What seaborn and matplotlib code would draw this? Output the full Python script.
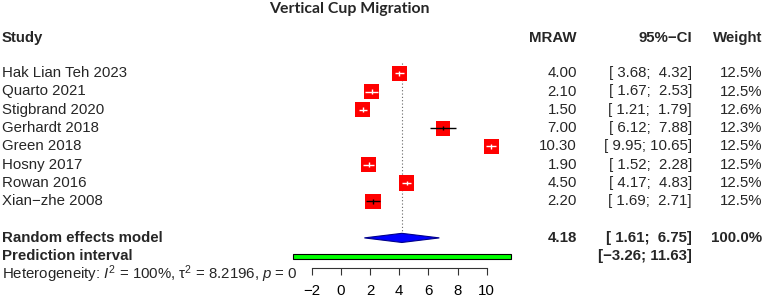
import numpy as np
import pandas as pd
import matplotlib
matplotlib.use('Agg')
import matplotlib.pyplot as plt
import matplotlib.transforms as mtransforms
from matplotlib.patches import Polygon, Rectangle
import seaborn as sns

# study level data
studies = ['Hak Lian Teh 2023', 'Quarto 2021', 'Stigbrand 2020', 'Gerhardt 2018',
           'Green 2018', 'Hosny 2017', 'Rowan 2016', 'Xian\u2212zhe 2008']
mraw = [4.00, 2.10, 1.50, 7.00, 10.30, 1.90, 4.50, 2.20]
ci_lo = [3.68, 1.67, 1.21, 6.12, 9.95, 1.52, 4.17, 1.69]
ci_hi = [4.32, 2.53, 1.79, 7.88, 10.65, 2.28, 4.83, 2.71]
weight = [12.5, 12.5, 12.6, 12.3, 12.5, 12.5, 12.5, 12.5]

# pooled results
re_est, re_lo, re_hi = 4.18, 1.61, 6.75
re_weight = 100.0
pi_lo, pi_hi = -3.26, 11.63
i2, tau2, pval = '100%', '8.2196', '0'
xticks = [-2, 0, 2, 4, 6, 8, 10]

sns.set_theme(style='white')
plt.rcParams['font.family'] = ['Liberation Sans', 'DejaVu Sans']
plt.rcParams['mathtext.fontset'] = 'custom'
plt.rcParams['mathtext.rm'] = 'Liberation Sans'
plt.rcParams['mathtext.it'] = 'Liberation Sans:italic'
plt.rcParams['mathtext.bf'] = 'Liberation Sans:bold'

FS = 10.8
W, H = 764, 301
fig = plt.figure(figsize=(W / 100, H / 100), dpi=100)
ax = fig.add_axes([0, 0, 1, 1])

# pixel layout of the forest panel
px_unit = 175 / 12
x0 = 340.9
ax.set_xlim(-x0 / px_unit, (W - x0) / px_unit)
row_px, y0 = 18.3, 73.2
ax.set_ylim((H - y0) / row_px, -y0 / row_px)

df = pd.DataFrame({'mraw': mraw, 'row': np.arange(len(studies)), 'weight': weight,
                   'lo': ci_lo, 'hi': ci_hi})

# reference line at pooled estimate
ax.vlines(re_est, -0.56, 8.68, colors='#666666', linestyles=(0, (1, 2)), lw=0.8, zorder=1)

sns.scatterplot(data=df, x='mraw', y='row', size='weight', sizes=(116, 119),
                size_norm=(12.3, 12.6), marker='s', color='#FF0000', linewidth=0,
                legend=False, ax=ax, zorder=3)

half_sq = 7.3 / px_unit
line_cols = ['black' if (h - l) / 2 > half_sq else 'white' for l, h in zip(ci_lo, ci_hi)]
ax.hlines(df['row'], df['lo'], df['hi'], colors=line_cols, lw=1, zorder=4)
ax.vlines(df['mraw'], df['row'] - 0.13, df['row'] + 0.13, colors=line_cols, lw=1, zorder=4)

# random effects diamond and prediction interval
ax.add_patch(Polygon([(re_lo, 9), (re_est, 8.75), (re_hi, 9), (re_est, 9.25)],
                     closed=True, fc='#0000FF', ec='#00008B', lw=0.8, zorder=3))
ax.add_patch(Rectangle((pi_lo, 10.03 - 0.13), pi_hi - pi_lo, 0.26,
                       fc='#00FF00', ec='black', lw=0.8, zorder=3))

# x axis
for s in ['top', 'left', 'right']:
    ax.spines[s].set_visible(False)
ax.spines['bottom'].set_position(('data', 10.63))
ax.spines['bottom'].set_bounds(-2, 10)
ax.spines['bottom'].set_color('#333333')
ax.spines['bottom'].set_linewidth(0.8)
ax.set_xticks(xticks)
ax.set_yticks([])
ax.tick_params(axis='x', direction='out', length=5.3, width=0.8, pad=6.5,
               labelsize=FS, color='#333333', labelcolor='black', bottom=True)
ax.set_xlabel('')
ax.set_ylabel('')

tr = mtransforms.blended_transform_factory(fig.transFigure, ax.transData)


def put(px, row, s, ha='left', bold=False, **kw):
    ax.text(px / W, row, s, transform=tr, ha=ha, va='center', fontsize=FS,
            fontweight='bold' if bold else 'normal', **kw)


def fmt_ci(l, h):
    return ('[%5.2f; %5.2f]' % (l, h)).replace('-', '\u2212')


col_mraw, col_ci, col_w = 577, 692, 762

ax.text(349 / W, -3.5, 'Vertical Cup Migration', transform=tr, ha='center', va='center',
        fontsize=11.4, fontweight='bold', family=['Lato', 'DejaVu Sans'])

put(2, -1.95, 'Study', bold=True)
put(col_mraw, -1.95, 'MRAW', ha='right', bold=True)
put(col_ci, -1.95, '95%\u2212CI', ha='right', bold=True)
put(col_w, -1.95, 'Weight', ha='right', bold=True)

for i, name in enumerate(studies):
    put(2, i, name)
    put(col_mraw, i, '%.2f' % mraw[i], ha='right')
    put(col_ci, i, fmt_ci(ci_lo[i], ci_hi[i]), ha='right')
    put(col_w, i, '%.1f%%' % weight[i], ha='right')

put(2, 9, 'Random effects model', bold=True)
put(col_mraw, 9, '%.2f' % re_est, ha='right', bold=True)
put(col_ci, 9, fmt_ci(re_lo, re_hi), ha='right', bold=True)
put(col_w, 9, '%.1f%%' % re_weight, ha='right', bold=True)

put(2, 10, 'Prediction interval', bold=True)
put(col_ci, 10, fmt_ci(pi_lo, pi_hi), ha='right', bold=True)

put(2, 11, 'Heterogeneity: $I^2$ = ' + i2 + ', \u03c4$^2$ = ' + tau2 + ', $p$ = ' + pval)

fig.savefig('out.png', dpi=100)
